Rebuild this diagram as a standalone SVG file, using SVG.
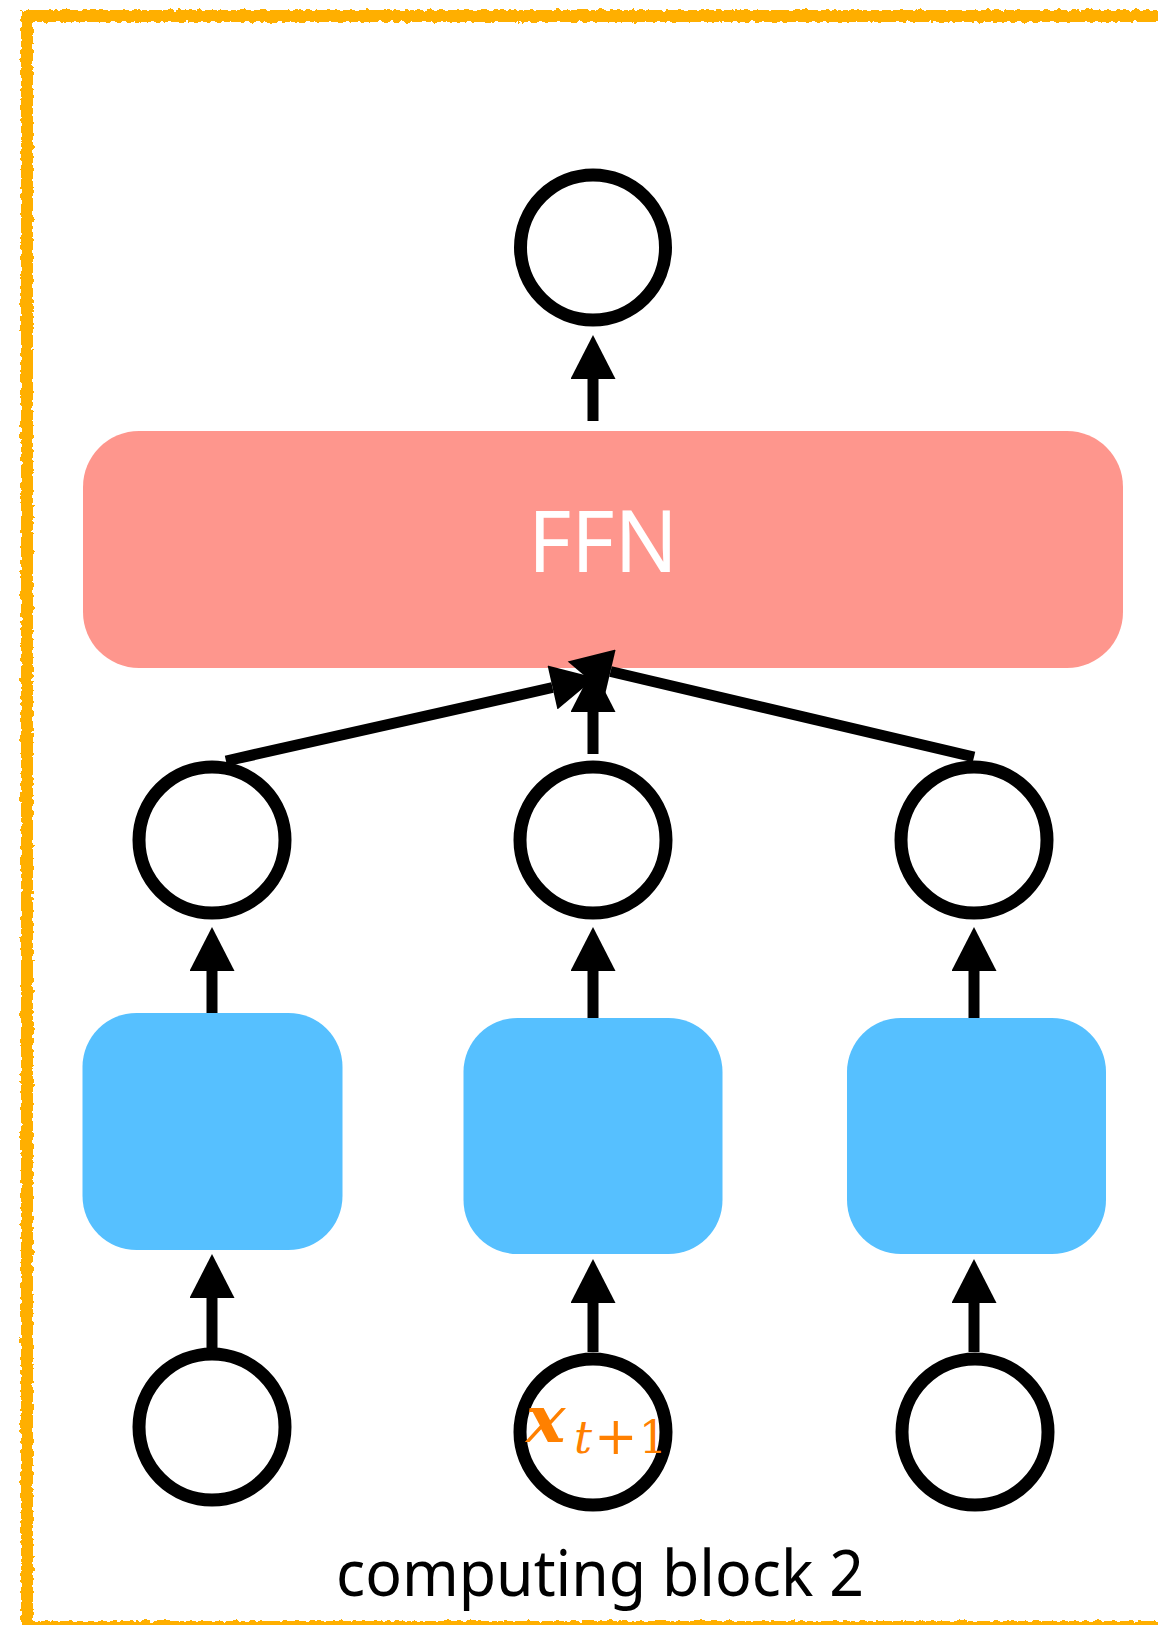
<svg xmlns="http://www.w3.org/2000/svg" width="1158" height="1625" viewBox="0 0 1158 1625">
  <style>
    .ring { fill: #ffffff; stroke: #000000; stroke-width: 13; }
    .conn { stroke: #000000; stroke-width: 11; fill: none; marker-end: url(#head); }
    .blue { fill: #56C0FF; }
    .label { font-family: "Noto Sans", "Open Sans", sans-serif; }
    .math { fill: #FF8000; font-family: "DejaVu Serif", "Liberation Serif", serif; }
  </style>
  <defs>
    <marker id="head" markerUnits="userSpaceOnUse" markerWidth="45" markerHeight="45" viewBox="0 0 44 45" refX="0" refY="22.5" orient="auto">
      <path d="M0,0 L44,22.5 L0,45 Z" fill="#000000"/>
    </marker>
    <filter id="rough" x="-3%" y="-3%" width="106%" height="106%">
      <feTurbulence type="fractalNoise" baseFrequency="0.18" numOctaves="2" seed="4" result="n"/>
      <feDisplacementMap in="SourceGraphic" in2="n" scale="6" xChannelSelector="R" yChannelSelector="G"/>
    </filter>
  </defs>
  <rect width="1158" height="1625" fill="#ffffff"/>

  <g id="frame">
    <rect x="27" y="16" width="1170" height="1611" fill="none" stroke="#FFAF00" stroke-width="12" filter="url(#rough)"/>
    <text class="label" x="600" y="1596" font-size="64" text-anchor="middle" textLength="528" lengthAdjust="spacingAndGlyphs" fill="#000000">computing block 2</text>
  </g>

  <g id="out-circle"><circle class="ring" cx="593" cy="247.5" r="72.5"/></g>

  <g id="ffn">
    <rect x="83" y="431" width="1040" height="237" rx="56" ry="56" fill="#FE968D"/>
    <text class="label" x="603" y="572" font-size="86" text-anchor="middle" textLength="150" lengthAdjust="spacingAndGlyphs" fill="#ffffff">FFN</text>
  </g>

  <g id="mid-circle-left"><circle class="ring" cx="212" cy="840" r="73"/></g>
  <g id="mid-circle-center"><circle class="ring" cx="593" cy="840" r="73"/></g>
  <g id="mid-circle-right"><circle class="ring" cx="974" cy="840" r="73"/></g>

  <g id="block-left"><rect class="blue" x="82.5" y="1013" width="260" height="237" rx="54" ry="54"/></g>
  <g id="block-center"><rect class="blue" x="463.5" y="1018" width="259" height="236" rx="54" ry="54"/></g>
  <g id="block-right"><rect class="blue" x="847" y="1018" width="259" height="236" rx="54" ry="54"/></g>

  <g id="in-circle-left"><circle class="ring" cx="212" cy="1427" r="73"/></g>
  <g id="in-circle-center">
    <circle class="ring" cx="593" cy="1432" r="73"/>
    <text class="math" x="526" y="1442"><tspan font-size="66" font-weight="bold" font-style="italic">x</tspan><tspan x="574" y="1453" font-size="45" font-style="italic">t</tspan><tspan x="594" y="1454" font-size="52">+</tspan><tspan x="639" y="1453" font-size="44">1</tspan></text>
  </g>
  <g id="in-circle-right"><circle class="ring" cx="975" cy="1432" r="73"/></g>

  <g id="connectors">
    <line class="conn" x1="593" y1="421" x2="593" y2="379"/>
    <line class="conn" x1="226" y1="761" x2="552.5" y2="687.5"/>
    <line class="conn" x1="593" y1="754" x2="593" y2="712"/>
    <line class="conn" x1="974" y1="757" x2="610.5" y2="671.5"/>
    <line class="conn" x1="212" y1="1013" x2="212" y2="971"/>
    <line class="conn" x1="593" y1="1018" x2="593" y2="971"/>
    <line class="conn" x1="974" y1="1018" x2="974" y2="971"/>
    <line class="conn" x1="212" y1="1348" x2="212" y2="1298"/>
    <line class="conn" x1="593" y1="1352" x2="593" y2="1303"/>
    <line class="conn" x1="974" y1="1352" x2="974" y2="1303"/>
  </g>
</svg>
